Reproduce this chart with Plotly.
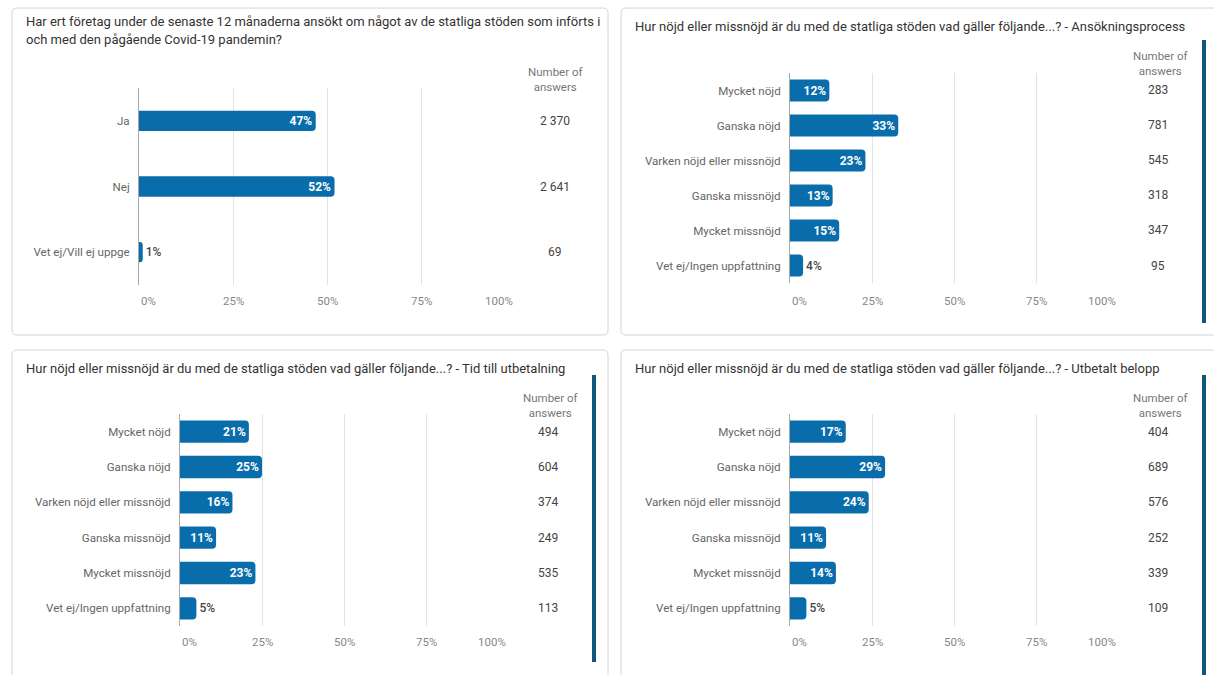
import plotly.graph_objects as go

W, H = 1214, 675

# ---------------- data ----------------
titles = [
    "Har ert företag under de senaste 12 månaderna ansökt om något av de statliga stöden som införts i<br>och med den pågående Covid-19 pandemin?",
    "Hur nöjd eller missnöjd är du med de statliga stöden vad gäller följande...? - Ansökningsprocess",
    "Hur nöjd eller missnöjd är du med de statliga stöden vad gäller följande...? - Tid till utbetalning",
    "Hur nöjd eller missnöjd är du med de statliga stöden vad gäller följande...? - Utbetalt belopp",
]

cats_q1 = ["Ja", "Nej", "Vet ej/Vill ej uppge"]
pct_q1 = [47, 52, 1]
cnt_q1 = [2370, 2641, 69]

cats_sat = ["Mycket nöjd", "Ganska nöjd", "Varken nöjd eller missnöjd",
            "Ganska missnöjd", "Mycket missnöjd", "Vet ej/Ingen uppfattning"]
pct_ansokan = [12, 33, 23, 13, 15, 4]
cnt_ansokan = [283, 781, 545, 318, 347, 95]
pct_tid = [21, 25, 16, 11, 23, 5]
cnt_tid = [494, 604, 374, 249, 535, 113]
pct_belopp = [17, 29, 24, 11, 14, 5]
cnt_belopp = [404, 689, 576, 252, 339, 109]

tick_vals = [0, 25, 50, 75, 100]
tick_text = ["0%", "25%", "50%", "75%", "100%"]
header_text = "Number of<br>answers"

series = [
    (cats_q1, pct_q1, cnt_q1),
    (cats_sat, pct_ansokan, cnt_ansokan),
    (cats_sat, pct_tid, cnt_tid),
    (cats_sat, pct_belopp, cnt_belopp),
]

# ---------------- layout geometry (pixels) ----------------
panels = [
    dict(card=(12, 8, 608, 335), xd=(139, 515), yd=(88, 285), title_xy=(24, 12),
         head=(555, 80), cnt_x=555, tick_y=301, strip=None, width=0.31),
    dict(card=(621, 8, 1225, 335), xd=(790, 1118), yd=(73, 283), title_xy=(633, 17),
         head=(1160, 64), cnt_x=1158, tick_y=301, strip=(1202, 40, 1206, 323), width=0.63),
    dict(card=(12, 350, 608, 690), xd=(180, 508), yd=(414, 626), title_xy=(24, 359),
         head=(550, 405), cnt_x=548, tick_y=642, strip=(592, 375, 596, 662), width=0.63),
    dict(card=(621, 350, 1225, 690), xd=(790, 1118), yd=(414, 626), title_xy=(633, 359),
         head=(1160, 405), cnt_x=1158, tick_y=642, strip=(1202, 375, 1206, 690), width=0.63),
]

def px(x):
    return x / W

def py(y):
    return 1 - y / H

BAR = "#0a6dab"
FONT = "Roboto"

fig = go.Figure()
annotations = []
shapes = []

def rounded_rect(x0, y0, x1, y1, r=5):
    X0, X1 = px(x0), px(x1)
    Y0, Y1 = py(y0), py(y1)
    rx, ry = r / W, r / H
    return (f"M {X0+rx},{Y0} L {X1-rx},{Y0} Q {X1},{Y0} {X1},{Y0-ry} "
            f"L {X1},{Y1+ry} Q {X1},{Y1} {X1-rx},{Y1} L {X0+rx},{Y1} "
            f"Q {X0},{Y1} {X0},{Y1+ry} L {X0},{Y0-ry} Q {X0},{Y0} {X0+rx},{Y0} Z")

layout_axes = {}
for i, (p, (cats, pct, cnt)) in enumerate(zip(panels, series), start=1):
    xa = "x" if i == 1 else f"x{i}"
    ya = "y" if i == 1 else f"y{i}"
    xkey = "xaxis" if i == 1 else f"xaxis{i}"
    ykey = "yaxis" if i == 1 else f"yaxis{i}"

    # card
    shapes.append(dict(type="path", xref="paper", yref="paper",
                       path=rounded_rect(*p["card"]),
                       line=dict(color="#d4d4d4", width=1), fillcolor="white", layer="below"))
    if p["strip"]:
        sx0, sy0, sx1, sy1 = p["strip"]
        shapes.append(dict(type="rect", xref="paper", yref="paper",
                           x0=px(sx0), x1=px(sx1), y0=py(sy0), y1=py(sy1),
                           line=dict(width=0), fillcolor="#11567d", layer="above"))

    positions = ["inside" if v >= 8 else "outside" for v in pct]
    fig.add_trace(go.Bar(
        x=pct, y=cats, orientation="h", xaxis=xa, yaxis=ya, width=p["width"],
        marker=dict(color=BAR, cornerradius=4, line=dict(width=0)),
        text=[f"{v}%" for v in pct], textposition=positions,
        insidetextanchor="end",
        insidetextfont=dict(family=FONT, size=12, color="white", weight="bold"),
        outsidetextfont=dict(family=FONT, size=12, color="#444", weight=500),
        cliponaxis=False, hoverinfo="skip", showlegend=False,
    ))

    layout_axes[xkey] = dict(domain=[px(p["xd"][0]), px(p["xd"][1])], range=[0, 100],
                             anchor=ya, tickvals=tick_vals, showticklabels=False,
                             showgrid=True, gridcolor="#e2e2e2", gridwidth=1,
                             zeroline=False, showline=False, fixedrange=True)
    layout_axes[ykey] = dict(domain=[py(p["yd"][1]), py(p["yd"][0])], anchor=xa,
                             range=[len(cats) - 0.5, -0.5], type="category",
                             showline=True, linecolor="#a8a8a8", linewidth=1,
                             showgrid=False, ticks="", ticklabelstandoff=6,
                             tickfont=dict(family=FONT, size=11.6, color="#666"),
                             fixedrange=True)

    # title lines
    tx, ty = p["title_xy"]
    for k, line in enumerate(titles[i - 1].split("<br>")):
        annotations.append(dict(xref="paper", yref="paper", x=px(tx), y=py(ty + 18 * k),
                                xanchor="left", yanchor="top", text=line, showarrow=False,
                                font=dict(family=FONT, size=13, color="#333")))
    # header
    hx, hy = p["head"]
    annotations.append(dict(xref="paper", yref="paper", x=px(hx), y=py(hy),
                            xanchor="center", yanchor="middle", text=header_text,
                            showarrow=False, align="center",
                            font=dict(family=FONT, size=11.5, color="#777")))
    # counts
    for c, n in zip(cats, cnt):
        annotations.append(dict(xref="paper", yref=ya, x=px(p["cnt_x"]), y=c,
                                xanchor="center", yanchor="middle",
                                text=f"{n:,}".replace(",", " "), showarrow=False,
                                font=dict(family=FONT, size=12, color="#444")))
    # x tick labels
    for v, t in zip(tick_vals, tick_text):
        anchor = "left" if v == tick_vals[0] else ("right" if v == tick_vals[-1] else "center")
        annotations.append(dict(xref=xa, yref="paper", x=v, y=py(p["tick_y"]),
                                xanchor=anchor, yanchor="middle", text=t, showarrow=False,
                                font=dict(family=FONT, size=11.5, color="#888")))

fig.update_layout(
    width=W, height=H, margin=dict(l=0, r=0, t=0, b=0),
    paper_bgcolor="white", plot_bgcolor="rgba(0,0,0,0)",
    font=dict(family=FONT),
    shapes=shapes, annotations=annotations,
    showlegend=False, hovermode=False,
    **layout_axes,
)

html = fig.to_html(full_html=True, include_plotlyjs=True,
                   config={"displayModeBar": False, "staticPlot": False})
html = html.replace("<head>", "<head><style>html,body{margin:0;padding:0;overflow:hidden;}</style>", 1)
with open("out.html", "w", encoding="utf-8") as f:
    f.write(html)
